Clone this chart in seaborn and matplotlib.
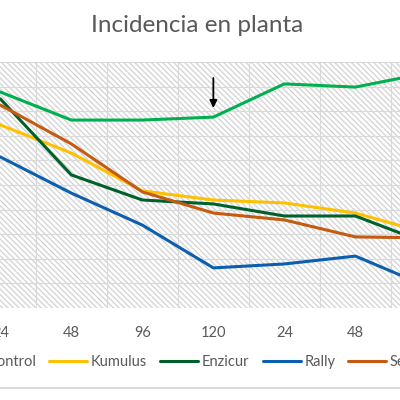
import matplotlib
matplotlib.use('Agg')
import matplotlib.pyplot as plt
import seaborn as sns
import pandas as pd
from matplotlib.patches import Rectangle
from matplotlib.lines import Line2D

# categories (hours after application, two rounds)
hours = ['24', '48', '96', '120', '24', '48', '96']
series_names = ['Control', 'Kumulus', 'Enzicur', 'Rally', 'Serenade']
control = [87.8, 76.4, 76.4, 77.6, 91.1, 89.8, 95.5]
kumulus = [74.4, 63.0, 47.6, 43.9, 42.7, 38.6, 30.5]
enzicur = [85.0, 54.1, 43.9, 42.3, 37.4, 37.4, 26.4]
rally = [61.4, 46.7, 33.7, 16.3, 17.9, 21.1, 8.9]
serenade = [82.5, 66.7, 47.2, 38.6, 35.8, 28.9, 28.5]
colors = ['#00B050', '#FFC000', '#00602B', '#0B5FAE', '#C55A11']

rows = []
for name, vals in zip(series_names, [control, kumulus, enzicur, rally, serenade]):
    for i, v in enumerate(vals):
        rows.append({'pos': i, 'valor': v, 'serie': name})
df = pd.DataFrame(rows)

sns.set_style('white')
plt.rcParams['font.family'] = ['Lato', 'DejaVu Sans']
plt.rcParams['hatch.linewidth'] = 0.9

fig = plt.figure(figsize=(4, 4), dpi=100)
ax = fig.add_axes([0, (400 - 308) / 400, 1, (308 - 62) / 400])

# hatched plot area
ax.add_patch(Rectangle((0, 0), 1, 1, transform=ax.transAxes, facecolor='white',
                       edgecolor='#D2D2D2', hatch='\\\\\\\\\\\\', linewidth=0, zorder=0))

sns.lineplot(data=df, x='pos', y='valor', hue='serie', hue_order=series_names,
             palette=colors, linewidth=2.2, legend=False, ax=ax, zorder=3)

ax.set_xticks(range(len(hours)))
ax.set_xticklabels(hours)
ax.set_xticks([i + 0.5 for i in range(-1, len(hours))], minor=True)
ax.set_yticks(range(0, 101, 10))
ax.set_yticklabels([])
# the chart is cropped: first category sits at the left edge
x0 = -0.005
ax.set_xlim(x0, x0 + 400 / 71)
ax.set_ylim(0, 100)
ax.tick_params(axis='x', which='both', length=0, pad=13, labelsize=10.5, labelcolor='#595959')
ax.tick_params(axis='y', length=0)
ax.grid(False)
ax.grid(True, axis='y', which='major', color='#D9D9D9', linewidth=0.8, zorder=1)
ax.grid(True, axis='x', which='minor', color='#D9D9D9', linewidth=0.8, zorder=1)
ax.set_axisbelow(True)
ax.set_xlabel('')
ax.set_ylabel('')
for s in ax.spines.values():
    s.set_visible(False)

# arrow marking the new application
ax.annotate('', xy=(3, 81.3), xytext=(3, 93.5),
            arrowprops=dict(arrowstyle='-|>', color='black', lw=1.3, mutation_scale=11,
                            shrinkA=0, shrinkB=0))

fig.suptitle('Incidencia en planta', x=0.493, y=0.962, fontsize=17.5, color='#595959')

handles = [Line2D([], [], color=c, lw=2.2) for c in colors]
fig.legend(handles, series_names, loc='center', bbox_to_anchor=(0.495, 0.095), ncol=5,
           frameon=False, fontsize=10.5, labelcolor='#595959', handlelength=2.6,
           handletextpad=0.25, columnspacing=0.9)

fig.add_artist(Line2D([0, 1], [12 / 400, 12 / 400], transform=fig.transFigure,
                      color='#D9D9D9', lw=1.5))

plt.savefig('out.png', dpi=100)
